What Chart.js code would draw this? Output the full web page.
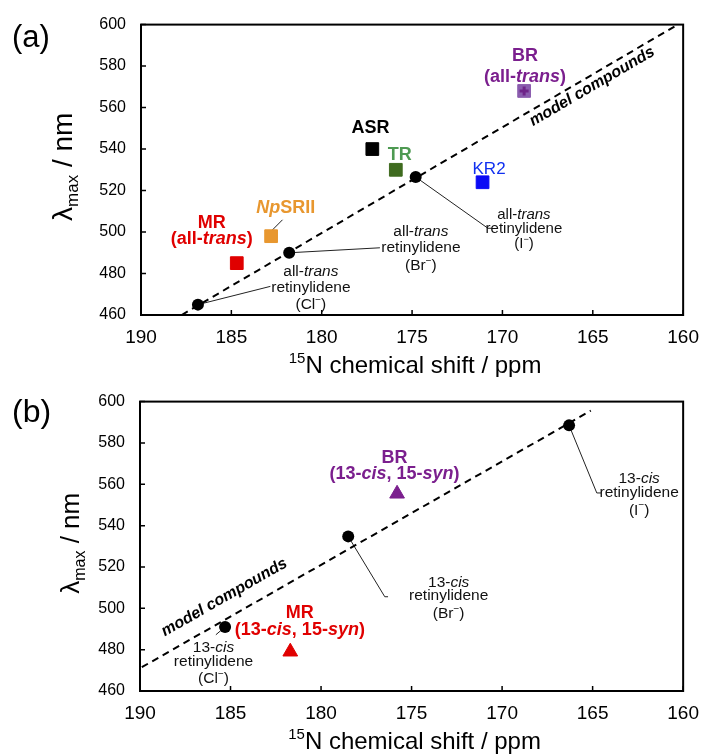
<!DOCTYPE html>
<html>
<head>
<meta charset="utf-8">
<script src="https://cdn.jsdelivr.net/npm/chart.js@4.4.1/dist/chart.umd.min.js"></script>
<style>
    body { margin: 0; background: #fff; }
    .panell { position: absolute; left: 0; width: 710px; height: 377px; }
</style>
</head>
<body>
<div class="panell" style="top:0"><canvas id="graficA"></canvas></div>
<div class="panell" style="top:377px"><canvas id="graficB"></canvas></div>
<script>
// --- dades llegides de la figura ---
const ticksX = [190, 185, 180, 175, 170, 165, 160];
const ticksY = [460, 480, 500, 520, 540, 560, 580, 600];

// (a) all-trans
const modelA_desp = [186.85, 181.8, 174.8];
const modelA_lambda = [465, 490, 526.5];
const rectaA_desp = [187.75, 160.3];
const rectaA_lambda = [460, 600];
const proteinesA = ['MR', 'NpSRII', 'ASR', 'TR', 'KR2', 'BR'];
const protA_desp = [184.7, 182.8, 177.2, 175.9, 171.1, 168.8];
const protA_lambda = [485, 498, 540, 530, 524, 568];

// (b) 13-cis, 15-syn
const modelB_desp = [185.3, 178.5, 166.3];
const modelB_lambda = [491, 534.8, 588.5];
const rectaB_desp = [189.9, 165.1];
const rectaB_lambda = [471.5, 595.6];
const proteinesB = ['MR', 'BR'];
const protB_desp = [181.7, 175.8];
const protB_lambda = [479, 555.4];

// --- estils ---
const FONT = "'Liberation Sans', Arial, sans-serif";
const colorsQuadrat = { MR: '#E00000', NpSRII: '#E8972F', ASR: '#000000', TR: '#3F6B1F', KR2: '#0A0AF5', BR: '#8A5CAE' };
const LILA = '#7B1F8E';
const VERMELL = '#E00000';

// etiquetes: posició en coordenades de dades (x, y = línia base)
const etiquetesA = [
    { x: 168.75, y: 582.3, mida: 18, color: LILA, runs: [['BR', 'b']] },
    { x: 168.75, y: 572.5, mida: 18, color: LILA, runs: [['(all-', 'b'], ['trans', 'bi'], [')', 'b']] },
    { x: 177.3, y: 547.8, mida: 18, color: '#000', runs: [['ASR', 'b']] },
    { x: 175.68, y: 534.8, mida: 18, color: '#4E9A52', runs: [['TR', 'b']] },
    { x: 170.74, y: 528.0, mida: 17, color: '#1030F0', runs: [['KR2', '']] },
    { x: 181.99, y: 509.0, mida: 18, color: '#E8972F', runs: [['Np', 'bi'], ['SRII', 'b']] },
    { x: 186.08, y: 501.9, mida: 18, color: VERMELL, runs: [['MR', 'b']] },
    { x: 186.08, y: 494.2, mida: 18, color: VERMELL, runs: [['(all-', 'b'], ['trans', 'bi'], [')', 'b']] },
    { x: 180.6, y: 479.0, mida: 15.5, color: '#111', runs: [['all-', ''], ['trans', 'i']] },
    { x: 180.6, y: 470.9, mida: 15.5, color: '#111', runs: [['retinylidene', '']] },
    { x: 180.6, y: 462.8, mida: 15.5, color: '#111', runs: [['(Cl', ''], ['\u2212', '^'], [')', '']] },
    { x: 174.51, y: 498.0, mida: 15.5, color: '#111', runs: [['all-', ''], ['trans', 'i']] },
    { x: 174.51, y: 490.4, mida: 15.5, color: '#111', runs: [['retinylidene', '']] },
    { x: 174.51, y: 481.8, mida: 15.5, color: '#111', runs: [['(Br', ''], ['\u2212', '^'], [')', '']] },
    { x: 168.81, y: 506.5, mida: 15, color: '#111', runs: [['all-', ''], ['trans', 'i']] },
    { x: 168.81, y: 499.4, mida: 15, color: '#111', runs: [['retinylidene', '']] },
    { x: 168.81, y: 492.3, mida: 15, color: '#111', runs: [['(I', ''], ['\u2212', '^'], [')', '']] }
];
const guiesA = [
    [[186.85, 465], [182.84, 473.8]],
    [[181.8, 490], [176.78, 492.4]],
    [[174.8, 526.5], [170.8, 501.8], [170.58, 501.8]],
    [[182.17, 505.9], [182.98, 498.8]]
];

const etiquetesB = [
    { x: 175.94, y: 570.4, mida: 18, color: LILA, runs: [['BR', 'b']] },
    { x: 175.94, y: 562.5, mida: 18, color: LILA, runs: [['(13-', 'b'], ['cis', 'bi'], [', 15-', 'b'], ['syn', 'bi'], [')', 'b']] },
    { x: 181.17, y: 495.5, mida: 18, color: VERMELL, runs: [['MR', 'b']] },
    { x: 181.17, y: 487.3, mida: 18, color: VERMELL, runs: [['(13-', 'b'], ['cis', 'bi'], [', 15-', 'b'], ['syn', 'bi'], [')', 'b']] },
    { x: 185.94, y: 479.0, mida: 15.5, color: '#111', runs: [['13-', ''], ['cis', 'i']] },
    { x: 185.94, y: 472.3, mida: 15.5, color: '#111', runs: [['retinylidene', '']] },
    { x: 185.94, y: 463.8, mida: 15.5, color: '#111', runs: [['(Cl', ''], ['\u2212', '^'], [')', '']] },
    { x: 172.95, y: 510.4, mida: 15.5, color: '#111', runs: [['13-', ''], ['cis', 'i']] },
    { x: 172.95, y: 503.8, mida: 15.5, color: '#111', runs: [['retinylidene', '']] },
    { x: 172.95, y: 495.4, mida: 15.5, color: '#111', runs: [['(Br', ''], ['\u2212', '^'], [')', '']] },
    { x: 162.43, y: 560.7, mida: 15.5, color: '#111', runs: [['13-', ''], ['cis', 'i']] },
    { x: 162.43, y: 553.8, mida: 15.5, color: '#111', runs: [['retinylidene', '']] },
    { x: 162.43, y: 545.3, mida: 15.5, color: '#111', runs: [['(I', ''], ['\u2212', '^'], [')', '']] }
];
const guiesB = [
    [[185.3, 491], [185.81, 487.2]],
    [[178.5, 534.8], [176.48, 505.6], [176.3, 505.6]],
    [[166.3, 588.5], [164.77, 555.8], [164.53, 555.8]]
];

function fontDe(flags, mida) {
    return (flags.includes('i') ? 'italic ' : '') + (flags.includes('b') ? 'bold ' : '') + mida + 'px ' + FONT;
}

// dibuixa un text amb trossos en negreta/cursiva/superíndex/subíndex
function textRic(ctx, runs, x, y, mida, color, alinea) {
    let total = 0;
    const mesures = runs.map(([t, f]) => {
        const m = (f.includes('^') || f.includes('_')) ? Math.round(mida * 0.62) : mida;
        ctx.font = fontDe(f, m);
        const w = ctx.measureText(t).width;
        total += w;
        return [m, w];
    });
    let cx = alinea === 'left' ? x : x - total / 2;
    ctx.fillStyle = color;
    ctx.textAlign = 'left';
    ctx.textBaseline = 'alphabetic';
    runs.forEach(([t, f], i) => {
        const [m, w] = mesures[i];
        ctx.font = fontDe(f, m);
        let dy = 0;
        if (f.includes('^')) dy = -mida * 0.4;
        if (f.includes('_')) dy = mida * 0.22;
        ctx.fillText(t, cx, y + dy);
        cx += w;
    });
    return total;
}

function creaPanell(idCanvas, cfg) {
    const canvas = document.getElementById(idCanvas);
    const ctx = canvas.getContext('2d');

    const puntsModel = cfg.modelX.map((v, i) => ({ x: v, y: cfg.modelY[i] }));
    const puntsRecta = cfg.rectaX.map((v, i) => ({ x: v, y: cfg.rectaY[i] }));
    const puntsProt = cfg.protX.map((v, i) => ({ x: v, y: cfg.protY[i] }));

    const datasets = [
        {
            label: 'model compounds (recta)',
            data: puntsRecta,
            showLine: true,
            borderColor: '#000',
            borderWidth: 2,
            borderDash: [7, 5],
            pointRadius: 0,
            order: 3
        },
        {
            label: 'model compounds',
            data: puntsModel,
            pointStyle: 'circle',
            pointRadius: 6,
            backgroundColor: '#000',
            borderColor: '#000',
            borderWidth: 0,
            order: 2
        },
        {
            label: 'proteïnes',
            data: puntsProt,
            pointStyle: cfg.forma,
            pointRadius: cfg.forma === 'rect' ? 9 : 8.5,
            backgroundColor: cfg.proteines.map(p => cfg.colors[p]),
            borderColor: cfg.proteines.map(p => cfg.colors[p]),
            borderWidth: 1,
            order: 1
        }
    ];
    if (cfg.creuBR) {
        const i = cfg.proteines.indexOf('BR');
        datasets.push({
            label: 'BR creu',
            data: [puntsProt[i]],
            pointStyle: 'cross',
            pointRadius: 4.5,
            borderColor: '#6E2488',
            borderWidth: 3,
            order: 0
        });
    }

    const dibuix = {
        id: 'dibuix',
        beforeDatasetsDraw(chart) {
            const c = chart.ctx;
            const sx = chart.scales.x, sy = chart.scales.y;
            c.save();
            c.strokeStyle = '#222';
            c.lineWidth = 1;
            cfg.guies.forEach(g => {
                c.beginPath();
                g.forEach(([a, b], k) => {
                    const px = sx.getPixelForValue(a), py = sy.getPixelForValue(b);
                    if (k === 0) c.moveTo(px, py); else c.lineTo(px, py);
                });
                c.stroke();
            });
            c.restore();
        },
        afterDatasetsDraw(chart) {
            const c = chart.ctx;
            const area = chart.chartArea;
            const sx = chart.scales.x, sy = chart.scales.y;
            c.save();

            // marc
            c.strokeStyle = '#000';
            c.lineWidth = 2;
            c.strokeRect(area.left, area.top, area.right - area.left, area.bottom - area.top);

            // ticks cap a dins
            c.lineWidth = 1.5;
            c.beginPath();
            ticksX.forEach(v => {
                const px = sx.getPixelForValue(v);
                c.moveTo(px, area.bottom);
                c.lineTo(px, area.bottom - 5);
            });
            ticksY.forEach(v => {
                const py = sy.getPixelForValue(v);
                c.moveTo(area.left, py);
                c.lineTo(area.left + 5, py);
            });
            c.stroke();

            // etiquetes
            cfg.etiquetes.forEach(e => {
                textRic(c, e.runs, sx.getPixelForValue(e.x), sy.getPixelForValue(e.y), e.mida, e.color);
            });

            // "model compounds" seguint la recta
            const x1 = sx.getPixelForValue(cfg.rectaX[0]), y1 = sy.getPixelForValue(cfg.rectaY[0]);
            const x2 = sx.getPixelForValue(cfg.rectaX[1]), y2 = sy.getPixelForValue(cfg.rectaY[1]);
            const angle = Math.atan2(y2 - y1, x2 - x1);
            c.translate(sx.getPixelForValue(cfg.textRecta[0]), sy.getPixelForValue(cfg.textRecta[1]));
            c.rotate(angle);
            c.font = 'italic bold 16px ' + FONT;
            c.fillStyle = '#000';
            c.textAlign = 'center';
            c.textBaseline = 'middle';
            c.fillText('model compounds', 0, 0);
            c.restore();

            // lletra del panell
            c.save();
            c.fillStyle = '#000';
            c.font = cfg.midaLletra + 'px ' + FONT;
            c.textAlign = 'left';
            c.textBaseline = 'alphabetic';
            c.fillText(cfg.lletra, 12, area.top + cfg.baseLletra);

            // títol eix x
            textRic(c, [['15', '^'], ['N chemical shift / ppm', '']], (area.left + area.right) / 2 + 3, area.bottom + 58, 24, '#000');

            // títol eix y (girat)
            c.translate(cfg.titolYx, (area.top + area.bottom) / 2 - 3);
            c.rotate(-Math.PI / 2);
            textRic(c, [['\u03bb', ''], ['max', '_'], [' / nm', '']], 0, 0, cfg.midaTitolY, '#000');
            c.restore();
        }
    };

    return new Chart(ctx, {
        type: 'scatter',
        data: { datasets },
        options: {
            responsive: true,
            maintainAspectRatio: false,
            animation: false,
            layout: { padding: { top: cfg.dalt, right: cfg.dreta, left: 0, bottom: 0 } },
            plugins: {
                legend: { display: false },
                tooltip: { enabled: false }
            },
            scales: {
                x: {
                    type: 'linear',
                    reverse: true,
                    min: 160,
                    max: 190,
                    afterBuildTicks: s => { s.ticks = ticksX.map(v => ({ value: v })); },
                    afterFit: s => { s.height = cfg.altX; },
                    grid: { display: false, drawTicks: false },
                    border: { display: false },
                    ticks: {
                        color: '#000',
                        padding: 11,
                        maxRotation: 0,
                        font: { family: FONT, size: 19 }
                    }
                },
                y: {
                    type: 'linear',
                    min: 460,
                    max: 600,
                    afterBuildTicks: s => { s.ticks = ticksY.map(v => ({ value: v })); },
                    afterFit: s => { s.width = cfg.ampleY; },
                    grid: { display: false, drawTicks: false },
                    border: { display: false },
                    ticks: {
                        color: '#000',
                        padding: 15,
                        font: { family: FONT, size: 16 }
                    }
                }
            }
        },
        plugins: [dibuix]
    });
}

creaPanell('graficA', {
    lletra: '(a)', midaLletra: 31, baseLletra: 22,
    modelX: modelA_desp, modelY: modelA_lambda,
    rectaX: rectaA_desp, rectaY: rectaA_lambda,
    protX: protA_desp, protY: protA_lambda,
    proteines: proteinesA,
    colors: colorsQuadrat,
    forma: 'rect',
    creuBR: true,
    etiquetes: etiquetesA,
    guies: guiesA,
    textRecta: [165.04, 570.1],
    dalt: 20, dreta: 16, ampleY: 141, altX: 62,
    titolYx: 72, midaTitolY: 28
});

creaPanell('graficB', {
    lletra: '(b)', midaLletra: 32, baseLletra: 20,
    modelX: modelB_desp, modelY: modelB_lambda,
    rectaX: rectaB_desp, rectaY: rectaB_lambda,
    protX: protB_desp, protY: protB_lambda,
    proteines: proteinesB,
    colors: { MR: '#E00000', BR: '#7B1F8E' },
    forma: 'triangle',
    creuBR: false,
    etiquetes: etiquetesB,
    guies: guiesB,
    textRecta: [185.34, 505.25],
    dalt: 17, dreta: 14, ampleY: 140, altX: 63,
    titolYx: 79, midaTitolY: 26
});
</script>
</body>
</html>
